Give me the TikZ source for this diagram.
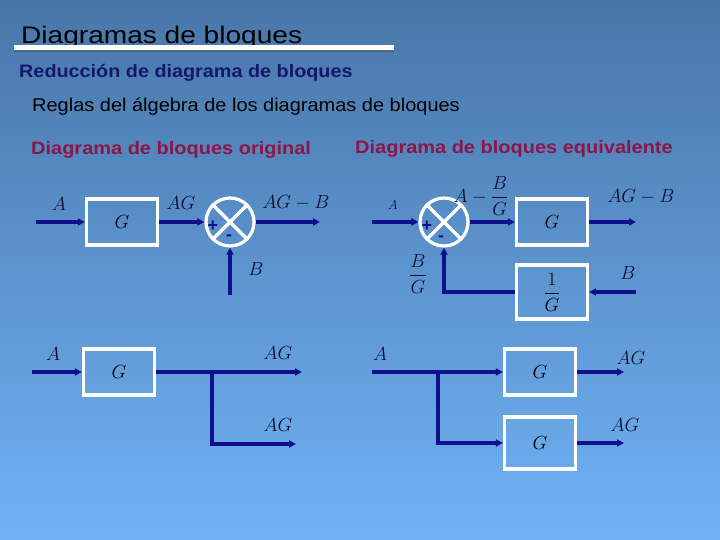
\RequirePackage{fix-cm}
\documentclass[tikz,border=0pt]{standalone}
\usepackage[no-math]{fontspec}
\setmainfont{Liberation Sans}
\usepackage{amsmath}
\usetikzlibrary{arrows.meta}
\usetikzlibrary{positioning}

\definecolor{azulosc}{RGB}{16,16,140}
\definecolor{azultit}{RGB}{22,22,110}
\definecolor{granate}{RGB}{140,22,72}
\definecolor{fondoarriba}{RGB}{72,118,168}
\definecolor{fondoabajo}{RGB}{112,178,245}
\definecolor{textoet}{RGB}{14,14,50}

\newcommand{\ancho}[1]{\addfontfeatures{FakeStretch=#1}}

\begin{document}
\begin{tikzpicture}[x=1pt, y=-1pt,
  bloque/.style={draw=white, line width=3.2pt, minimum width=71pt, minimum height=46pt, inner sep=0pt, font=\fontsize{19}{19}\selectfont},
  sumador/.style={draw=white, line width=3.2pt, circle, minimum size=48pt, inner sep=0pt},
  senal/.style={draw=azulosc, line width=3.2pt, -{Triangle[length=7pt,width=7pt]}},
  etiqueta/.style={font=\fontsize{19}{19}\selectfont, text=textoet},
  signo/.style={font=\fontsize{18}{18}\selectfont\bfseries, text=azulosc, inner sep=0pt}]

% fondo
\shade[top color=fondoarriba, bottom color=fondoabajo] (0,0) rectangle (720,540);
\useasboundingbox (0,0) rectangle (720,540);

% titulos
\node[anchor=base west, inner sep=0pt, font=\fontsize{24}{24}\selectfont\ancho{1.17}] (titulo) at (21,44) {Diagramas de bloques};
\fill[white] (14,45) rectangle (394,50);
\draw[gray!70!black, line width=1.5pt] (14,51.5) -- (394,51.5);
\node[anchor=base west, inner sep=0pt, font=\fontsize{18}{18}\selectfont\bfseries\ancho{1.1}, text=azultit] (reduccion) at (19,78) {Reducción de diagrama de bloques};
\node[anchor=base west, inner sep=0pt, font=\fontsize{18.5}{18.5}\selectfont\ancho{1.08}] (reglas) at (32,112) {Reglas del álgebra de los diagramas de bloques};
\node[anchor=base west, inner sep=0pt, font=\fontsize{18}{18}\selectfont\bfseries\ancho{1.11}, text=granate] (original) at (31,155) {Diagrama de bloques original};
\node[anchor=base west, inner sep=0pt, font=\fontsize{18}{18}\selectfont\bfseries\ancho{1.11}, text=granate] (equivalente) at (355,154) {Diagrama de bloques equivalente};

% original: sumador despues del bloque
\node[bloque] (g1) at (122,222) {$G$};
\node[sumador] (s1) at (230,222) {};
\draw[white, line width=3.2pt] (s1.45) -- (s1.225) (s1.135) -- (s1.315);
\coordinate (a1) at (36,222);
\coordinate (y1) at (320,222);
\coordinate (b1) at (230,295);
\draw[senal] (a1) -- (g1);
\draw[senal] (g1) -- (s1);
\draw[senal] (s1) -- (y1);
\draw[senal] (b1) -- (s1);
\node[etiqueta] (la1) at (59,204) {$A$};
\node[etiqueta] (lag1) at (181,203) {$AG$};
\node[etiqueta] (lagb1) at (296,203) {$AG-B$};
\node[etiqueta] (lb1) at (256,269) {$B$};
\node[signo] (mas1) at (213,226) {+};
\node[signo] (menos1) at (229,238) {-};

% equivalente: sumador antes del bloque
\node[sumador] (s2) at (444,222) {};
\draw[white, line width=3.2pt] (s2.45) -- (s2.225) (s2.135) -- (s2.315);
\node[bloque] (g2) at (552,222) {$G$};
\node[bloque, minimum height=54pt] (h2) at (552,292) {$\dfrac{1}{G}$};
\coordinate (a2) at (372,222);
\coordinate (y2) at (636,222);
\coordinate (b2) at (636,292);
\draw[senal] (a2) -- (s2);
\draw[senal] (s2) -- (g2);
\draw[senal] (g2) -- (y2);
\draw[senal] (b2) -- (h2);
\draw[senal] (h2.west) -| (s2.south);
\node[etiqueta, font=\fontsize{13}{13}\selectfont] (la2) at (393,205) {$A$};
\node[etiqueta] (lab2) at (481,196) {$A-\dfrac{B}{G}$};
\node[etiqueta] (lagb2) at (641,197) {$AG-B$};
\node[etiqueta] (lbg2) at (418,274) {$\dfrac{B}{G}$};
\node[etiqueta] (lb2) at (628,273) {$B$};
\node[signo] (mas2) at (427,226) {+};
\node[signo] (menos2) at (441,239) {-};

% original: derivacion despues del bloque
\node[bloque] (g3) at (119,372) {$G$};
\coordinate (a3) at (32,372);
\coordinate (y3) at (302,372);
\coordinate (r3) at (212,372);
\coordinate (y4) at (296,444);
\draw[senal] (a3) -- (g3);
\draw[senal] (g3) -- (y3);
\draw[senal] (r3) |- (y4);
\node[etiqueta] (la3) at (53,354) {$A$};
\node[etiqueta] (lag3) at (278,353) {$AG$};
\node[etiqueta] (lag4) at (278,425) {$AG$};

% equivalente: derivacion antes del bloque
\node[bloque] (g4) at (540,372) {$G$};
\node[bloque, minimum height=52pt] (g5) at (540,443) {$G$};
\coordinate (a4) at (372,372);
\coordinate (r4) at (438,372);
\coordinate (y5) at (624,372);
\coordinate (y6) at (624,443);
\draw[senal] (a4) -- (g4);
\draw[senal] (r4) |- (g5);
\draw[senal] (g4) -- (y5);
\draw[senal] (g5) -- (y6);
\node[etiqueta] (la4) at (380,354) {$A$};
\node[etiqueta] (lag5) at (631,358) {$AG$};
\node[etiqueta] (lag6) at (625,425) {$AG$};
\end{tikzpicture}
\end{document}
